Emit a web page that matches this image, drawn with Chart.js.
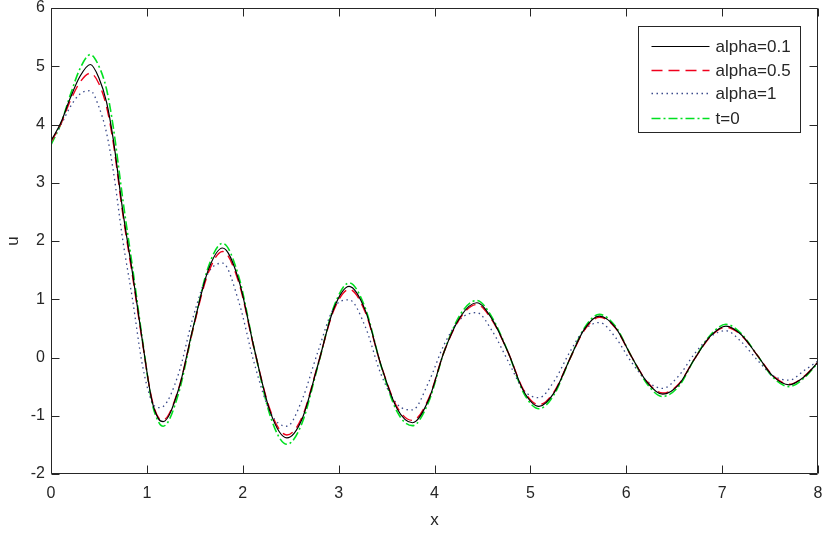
<!DOCTYPE html>
<html>
<head>
<meta charset="utf-8">
<script src="https://cdn.jsdelivr.net/npm/chart.js@4/dist/chart.umd.min.js"></script>
<style>
  html, body { margin: 0; padding: 0; background: #fff; }
  #wrap { width: 823px; height: 533px; position: relative; }
</style>
</head>
<body>
<div id="wrap"><canvas id="c" width="823" height="533"></canvas></div>
<script>
// ---- data ----
const xValues = [0, 0.1, 0.2, 0.3, 0.41, 0.5, 0.58, 0.65, 0.75, 0.85, 0.95, 1.05, 1.12, 1.17,
  1.33, 1.48, 1.64, 1.79, 1.96, 2.12, 2.29, 2.46, 2.62, 2.78, 2.95, 3.11, 3.28, 3.44, 3.61, 3.77,
  3.94, 4.1, 4.27, 4.44, 4.6, 4.77, 4.93, 5.09, 5.25, 5.41, 5.56, 5.72, 5.89, 6.05, 6.22, 6.38,
  6.55, 6.71, 6.88, 7.04, 7.2, 7.37, 7.53, 7.7, 7.85, 8.0];

const alpha01 = [3.72, 4.02, 4.45, 4.82, 5.03, 4.8, 4.38, 3.74, 2.5, 1.45, 0.32, -0.72, -1.05, -1.1,
  -0.55, 0.5, 1.5, 1.88, 1.32, 0.15, -0.95, -1.38, -1.05, -0.15, 0.84, 1.22, 0.8, -0.12, -0.88, -1.12,
  -0.72, 0.1, 0.7, 0.94, 0.66, 0.08, -0.58, -0.84, -0.6, -0.03, 0.48, 0.71, 0.51, 0.03, -0.43, -0.63,
  -0.46, -0.03, 0.37, 0.54, 0.39, 0.03, -0.32, -0.47, -0.34, -0.08];

const alpha05 = [3.7, 4.0, 4.4, 4.72, 4.88, 4.7, 4.3, 3.68, 2.45, 1.4, 0.3, -0.7, -1.03, -1.07,
  -0.54, 0.48, 1.45, 1.82, 1.28, 0.14, -0.92, -1.33, -1.02, -0.14, 0.81, 1.17, 0.77, -0.12, -0.85, -1.08,
  -0.7, 0.1, 0.68, 0.91, 0.64, 0.08, -0.56, -0.81, -0.58, -0.03, 0.46, 0.69, 0.5, 0.03, -0.42, -0.61,
  -0.45, -0.03, 0.36, 0.52, 0.38, 0.03, -0.31, -0.46, -0.33, -0.08];

const alpha1 = [3.7, 3.98, 4.3, 4.52, 4.58, 4.3, 3.85, 3.2, 2.0, 1.0, -0.1, -0.75, -0.86, -0.84,
  -0.28, 0.68, 1.45, 1.62, 0.95, -0.1, -0.95, -1.18, -0.72, 0.08, 0.85, 0.99, 0.52, -0.28, -0.8, -0.9,
  -0.42, 0.22, 0.66, 0.77, 0.46, -0.07, -0.56, -0.69, -0.4, 0.09, 0.47, 0.6, 0.34, -0.07, -0.41, -0.53,
  -0.31, 0.06, 0.36, 0.46, 0.27, -0.05, -0.31, -0.39, -0.23, -0.06];

const t0 = [3.65, 4.0, 4.5, 4.95, 5.2, 5.0, 4.6, 3.95, 2.7, 1.55, 0.35, -0.75, -1.1, -1.18,
  -0.62, 0.48, 1.55, 1.96, 1.38, 0.15, -1.02, -1.49, -1.12, -0.17, 0.87, 1.28, 0.84, -0.13, -0.93, -1.17,
  -0.76, 0.1, 0.74, 0.98, 0.69, 0.08, -0.61, -0.88, -0.63, -0.03, 0.5, 0.74, 0.53, 0.03, -0.46, -0.67,
  -0.49, -0.03, 0.39, 0.57, 0.41, 0.03, -0.34, -0.5, -0.36, -0.09];

const seriesLabels = ['alpha=0.1', 'alpha=0.5', 'alpha=1', 't=0'];
const xTicks = [0, 1, 2, 3, 4, 5, 6, 7, 8];
const yTicks = [-2, -1, 0, 1, 2, 3, 4, 5, 6];
const xTitle = 'x';
const yTitle = 'u';

// ---- build chart ----
const FONT = '"Liberation Sans", Arial, Helvetica, sans-serif';
const AX = '#262626';
const toPts = ys => xValues.map((x, i) => ({ x: x, y: ys[i] }));

const styles = [
  { color: '#000000', width: 1.2, dash: [] },
  { color: '#f0001c', width: 1.4, dash: [11, 6] },
  { color: '#3a4a8a', width: 1.3, dash: [1.5, 3.5] },
  { color: '#00e020', width: 1.6, dash: [9, 3, 2, 3] }
];
const seriesData = [alpha01, alpha05, alpha1, t0];
const drawOrder = [0, 1, 2, 3]; // lower order drawn on top

const datasets = seriesData.map((ys, i) => ({
  label: seriesLabels[i],
  data: toPts(ys),
  borderColor: styles[i].color,
  borderWidth: styles[i].width,
  borderDash: styles[i].dash,
  pointRadius: 0,
  fill: false,
  cubicInterpolationMode: 'monotone',
  order: drawOrder[i]
}));

const framePlugin = {
  id: 'frame',
  afterDatasetsDraw(chart) {
    const ctx = chart.ctx;
    const a = chart.chartArea;
    const xs = chart.scales.x, ys = chart.scales.y;
    const L = Math.round(a.left) + 0.5, R = Math.round(a.right) - 0.5;
    const T = Math.round(a.top) + 0.5, B = Math.round(a.bottom) - 0.5;
    ctx.save();
    ctx.strokeStyle = AX;
    ctx.lineWidth = 1;
    ctx.setLineDash([]);
    ctx.beginPath();
    ctx.rect(L, T, R - L, B - T);
    const tl = 8;
    xTicks.forEach(v => {
      const p = Math.round(xs.getPixelForValue(v)) + 0.5;
      ctx.moveTo(p, B); ctx.lineTo(p, B - tl);
      ctx.moveTo(p, T); ctx.lineTo(p, T + tl);
    });
    yTicks.forEach(v => {
      const p = Math.round(ys.getPixelForValue(v)) + 0.5;
      ctx.moveTo(L, p); ctx.lineTo(L + tl, p);
      ctx.moveTo(R, p); ctx.lineTo(R - tl, p);
    });
    ctx.stroke();

    // legend box inside the plot, top-right
    const bw = 162, bh = 106;
    const bx = Math.round(a.right - 18 - bw) + 0.5, by = Math.round(a.top + 18) + 0.5;
    ctx.fillStyle = '#ffffff';
    ctx.fillRect(bx, by, bw, bh);
    ctx.strokeStyle = AX;
    ctx.strokeRect(bx, by, bw, bh);
    const rows = [19, 43, 66, 91];
    ctx.font = '17px ' + FONT;
    ctx.textBaseline = 'middle';
    ctx.textAlign = 'left';
    seriesLabels.forEach((lab, i) => {
      const y = Math.round(by + rows[i]) + 0.5;
      ctx.strokeStyle = styles[i].color;
      ctx.lineWidth = styles[i].width;
      ctx.setLineDash(styles[i].dash);
      ctx.beginPath();
      ctx.moveTo(bx + 13, y);
      ctx.lineTo(bx + 71, y);
      ctx.stroke();
      ctx.setLineDash([]);
      ctx.fillStyle = AX;
      ctx.fillText(lab, bx + 77, y + 1);
    });
    ctx.restore();
  }
};

function zeroPad(s) { s.paddingTop = 0; s.paddingBottom = 0; s.paddingLeft = 0; s.paddingRight = 0; }

new Chart(document.getElementById('c'), {
  type: 'line',
  data: { datasets: datasets },
  options: {
    responsive: false,
    animation: false,
    events: [],
    layout: { padding: { top: 8, right: 5, left: 0, bottom: 0 } },
    plugins: { legend: { display: false }, tooltip: { enabled: false } },
    scales: {
      x: {
        type: 'linear', min: 0, max: 8,
        afterFit(s) { s.height = 59; zeroPad(s); },
        afterBuildTicks(s) { s.ticks = xTicks.map(v => ({ value: v })); },
        grid: { display: false, drawTicks: false },
        border: { display: false },
        ticks: { color: AX, font: { family: FONT, size: 16 }, padding: 10, maxRotation: 0,
                 callback: v => String(v) },
        title: { display: true, text: xTitle, color: AX, font: { family: FONT, size: 17 }, padding: { top: 0, bottom: 2 } }
      },
      y: {
        type: 'linear', min: -2, max: 6,
        afterFit(s) { s.width = 51; zeroPad(s); },
        afterBuildTicks(s) { s.ticks = yTicks.map(v => ({ value: v })); },
        grid: { display: false, drawTicks: false },
        border: { display: false },
        ticks: { color: AX, font: { family: FONT, size: 16 }, padding: 6,
                 callback: v => String(v) },
        title: { display: true, text: yTitle, color: AX, font: { family: FONT, size: 17 }, padding: { top: 3, bottom: 0 } }
      }
    }
  },
  plugins: [framePlugin]
});
</script>
</body>
</html>
